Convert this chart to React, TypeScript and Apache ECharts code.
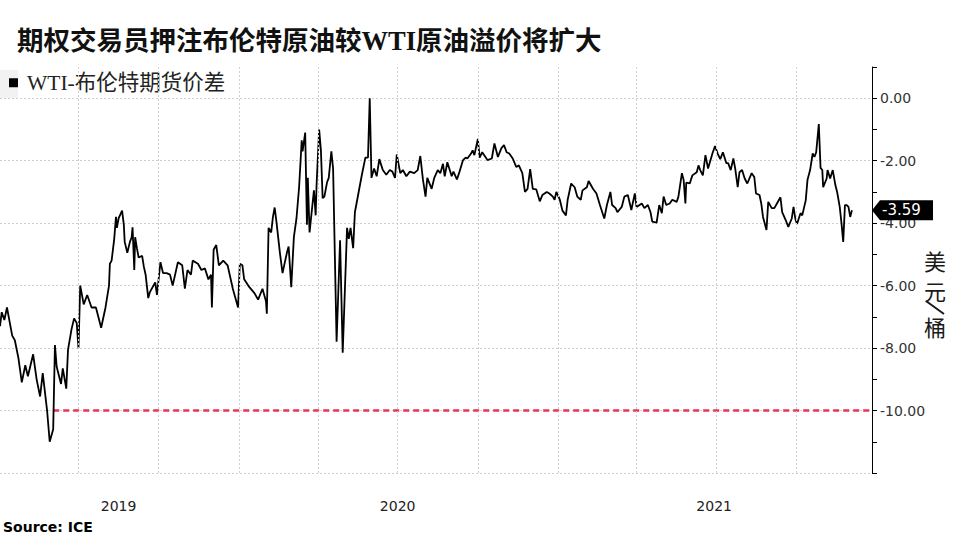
import React, { useEffect, useRef } from 'react';
import * as echarts from 'echarts';

const titleText = '期权交易员押注布伦特原油较WTI原油溢价将扩大';
const seriesName = 'WTI-布伦特期货价差';
const sourceText = 'Source: ICE';
const unitTop = ['美', '元'];
const unitBottom = '桶';

const dates = [
  '2019-04-02','2019-04-04','2019-04-07','2019-04-10','2019-04-16','2019-04-19','2019-04-23','2019-04-27','2019-05-01','2019-05-04',
  '2019-05-10','2019-05-14','2019-05-18','2019-05-21','2019-05-26','2019-05-29','2019-06-02','2019-06-04','2019-06-06','2019-06-11',
  '2019-06-13','2019-06-17','2019-06-19','2019-06-23','2019-06-26','2019-06-29','2019-07-01','2019-07-03','2019-07-07','2019-07-11',
  '2019-07-16','2019-07-21','2019-07-27','2019-08-01','2019-08-05','2019-08-06','2019-08-08','2019-08-11','2019-08-13','2019-08-14',
  '2019-08-16','2019-08-20','2019-08-22','2019-08-23','2019-08-26','2019-08-29','2019-08-31','2019-09-01','2019-09-03','2019-09-04',
  '2019-09-06','2019-09-08','2019-09-12','2019-09-14','2019-09-16','2019-09-19','2019-09-21','2019-09-27','2019-09-29','2019-10-03',
  '2019-10-06','2019-10-10','2019-10-14','2019-10-17','2019-10-23','2019-10-28','2019-10-31','2019-11-03','2019-11-07','2019-11-09',
  '2019-11-15','2019-11-19','2019-11-23','2019-11-27','2019-11-30','2019-12-01','2019-12-03','2019-12-06','2019-12-09','2019-12-14',
  '2019-12-19','2019-12-25','2019-12-31','2020-01-02','2020-01-05','2020-01-07','2020-01-13','2020-01-19','2020-01-23','2020-01-28',
  '2020-02-01','2020-02-02','2020-02-04','2020-02-07','2020-02-09','2020-02-11','2020-02-13','2020-02-17','2020-02-20','2020-02-25',
  '2020-02-27','2020-03-01','2020-03-04','2020-03-07','2020-03-10','2020-03-13','2020-03-14','2020-03-17','2020-03-19','2020-03-20',
  '2020-03-22','2020-03-27','2020-03-29','2020-03-30','2020-04-02','2020-04-04','2020-04-06','2020-04-08','2020-04-11','2020-04-13',
  '2020-04-16','2020-04-18','2020-04-22','2020-04-26','2020-04-29','2020-05-04','2020-05-06','2020-05-08','2020-05-11','2020-05-13',
  '2020-05-17','2020-05-21','2020-05-25','2020-05-28','2020-05-30','2020-06-01','2020-06-04','2020-06-07','2020-06-10','2020-06-14',
  '2020-06-18','2020-06-22','2020-06-25','2020-06-28','2020-06-30','2020-07-04','2020-07-07','2020-07-11','2020-07-15','2020-07-20',
  '2020-07-24','2020-07-27','2020-07-30','2020-08-02','2020-08-04','2020-08-09','2020-08-12','2020-08-16','2020-08-19','2020-08-22',
  '2020-08-24','2020-08-27','2020-09-01','2020-09-03','2020-09-07','2020-09-10','2020-09-14','2020-09-17','2020-09-19','2020-09-23',
  '2020-09-25','2020-09-27','2020-10-01','2020-10-03','2020-10-06','2020-10-12','2020-10-17','2020-10-20','2020-10-24','2020-10-28',
  '2020-10-31','2020-11-03','2020-11-06','2020-11-10','2020-11-14','2020-11-17','2020-11-21','2020-11-24','2020-11-27','2020-11-30',
  '2020-12-03','2020-12-07','2020-12-11','2020-12-14','2020-12-19','2020-12-22','2020-12-26','2020-12-28','2020-12-30','2021-01-03',
  '2021-01-06','2021-01-10','2021-01-12','2021-01-16','2021-01-20','2021-01-23','2021-01-27','2021-01-29','2021-02-03','2021-02-05',
  '2021-02-10','2021-02-14','2021-02-18','2021-02-21','2021-02-23','2021-02-26','2021-03-02','2021-03-04','2021-03-08','2021-03-10',
  '2021-03-15','2021-03-18','2021-03-22','2021-03-26','2021-03-30','2021-04-01','2021-04-07','2021-04-10','2021-04-14','2021-04-17',
  '2021-04-19','2021-04-24','2021-04-27','2021-04-30','2021-05-02','2021-05-05','2021-05-09','2021-05-12','2021-05-17','2021-05-19',
  '2021-05-23','2021-05-25','2021-05-27','2021-05-28','2021-06-01','2021-06-04','2021-06-09','2021-06-11','2021-06-13','2021-06-16',
  '2021-06-19','2021-06-22','2021-06-27','2021-06-30','2021-07-03','2021-07-06','2021-07-09','2021-07-13','2021-07-15','2021-07-18',
  '2021-07-21','2021-07-23','2021-07-26','2021-07-28','2021-07-31','2021-08-03','2021-08-06','2021-08-11','2021-08-14','2021-08-16',
  '2021-08-20','2021-08-22','2021-08-24','2021-08-28','2021-08-30','2021-09-03','2021-09-06','2021-09-09','2021-09-13','2021-09-15',
  '2021-09-19','2021-09-22','2021-09-26','2021-09-28','2021-09-30','2021-10-02','2021-10-06','2021-10-08','2021-10-12','2021-10-14',
  '2021-10-17','2021-10-20','2021-10-22','2021-10-24','2021-10-27','2021-10-29','2021-10-31','2021-11-01','2021-11-05','2021-11-06',
  '2021-11-09','2021-11-12','2021-11-15','2021-11-17','2021-11-20','2021-11-22','2021-11-24','2021-11-26','2021-11-28','2021-11-30',
  '2021-12-02','2021-12-04',
];

const values = [
  -7.3,-6.85,-7.1,-6.7,-7.6,-7.75,-8.3,-9.1,-8.55,-8.9,
  -8.2,-9.0,-9.55,-8.8,-10.0,-11.0,-10.6,-7.9,-8.6,-9.15,
  -8.65,-9.3,-8.05,-7.4,-7.05,-7.2,-8.0,-6.0,-6.6,-6.3,
  -6.7,-6.7,-7.35,-6.7,-6.0,-5.3,-5.2,-4.5,-3.8,-4.15,
  -3.85,-3.6,-4.05,-4.6,-4.95,-4.6,-4.45,-4.13,-5.5,-4.45,
  -4.8,-5.1,-5.05,-5.4,-5.65,-6.4,-6.2,-5.9,-6.3,-5.25,
  -5.6,-5.6,-5.65,-6.0,-5.25,-5.35,-6.1,-5.5,-5.65,-5.2,
  -5.3,-5.5,-5.45,-5.8,-5.65,-6.7,-4.85,-4.7,-5.35,-5.2,
  -5.35,-6.1,-6.7,-5.3,-5.35,-5.8,-6.05,-6.25,-6.45,-6.1,
  -6.5,-6.9,-4.15,-4.3,-3.8,-3.5,-3.95,-4.95,-5.6,-4.95,
  -4.75,-6.05,-4.45,-3.85,-2.85,-1.35,-1.7,-1.1,-4.05,-2.55,
  -4.3,-2.95,-3.75,-2.8,-1.0,-1.65,-3.2,-3.15,-2.7,-2.55,
  -1.7,-2.25,-7.8,-4.55,-8.15,-4.15,-4.5,-4.15,-4.8,-3.65,
  -3.05,-2.45,-1.9,-1.9,0.0,-2.55,-2.25,-2.5,-1.95,-2.3,
  -2.45,-2.3,-2.35,-2.55,-1.8,-2.4,-2.3,-2.5,-2.35,-2.4,
  -2.3,-1.85,-2.6,-3.15,-2.55,-2.9,-2.55,-2.3,-2.4,-2.1,
  -2.5,-2.05,-2.5,-2.35,-2.6,-2.35,-1.98,-1.9,-1.93,-1.78,
  -1.67,-1.82,-1.3,-1.9,-1.73,-1.98,-1.93,-1.45,-1.88,-1.6,
  -1.5,-1.73,-1.77,-1.93,-2.2,-2.15,-2.4,-3.0,-2.9,-2.27,
  -2.9,-2.92,-3.3,-3.1,-3.0,-3.05,-3.15,-3.25,-3.0,-3.25,
  -3.6,-3.75,-3.25,-2.73,-2.85,-3.15,-3.25,-2.95,-2.85,-2.65,
  -2.9,-3.05,-3.42,-3.68,-3.85,-3.42,-3.0,-3.42,-3.52,-3.65,
  -3.48,-3.15,-3.1,-3.58,-3.05,-3.48,-3.37,-3.52,-3.42,-3.65,
  -3.95,-3.98,-3.42,-3.68,-3.15,-3.42,-3.37,-3.25,-3.32,-3.15,
  -2.4,-2.62,-3.37,-2.7,-2.73,-2.47,-2.37,-2.15,-2.3,-2.47,
  -1.82,-2.25,-1.77,-1.53,-1.77,-1.95,-1.73,-2.08,-2.08,-2.3,
  -1.93,-2.23,-2.85,-2.37,-2.3,-2.57,-2.73,-2.4,-2.52,-3.05,
  -3.1,-3.37,-3.8,-4.22,-3.32,-3.52,-3.52,-3.37,-3.17,-3.65,
  -3.9,-4.12,-3.85,-3.48,-3.85,-4.03,-3.68,-3.75,-3.27,-2.62,
  -2.3,-1.77,-1.88,-1.73,-0.83,-2.23,-2.3,-2.85,-2.57,-2.3,
  -2.57,-2.3,-2.78,-3.0,-3.48,-4.0,-4.6,-3.42,-3.42,-3.48,
  -3.8,-3.59,
];

const axisStart = '2019-04-02';
const axisEnd = '2021-12-27';
const quarterLines = ['2019-07-01','2019-10-01','2020-01-01','2020-04-01','2020-07-01','2020-10-01','2021-01-01','2021-04-01','2021-07-01','2021-10-01'];
const yearLabelDates = ['2019-08-16','2020-07-01','2021-06-29'];
const refLevel = -10;
const refStart = '2019-06-02';
const yMin = -12;
const yMax = 1;
const yStep = 1;
const yLabelStep = 2;

const toTs = (s: string) => {
  const [y, m, d] = s.split('-').map(Number);
  return new Date(y, m - 1, d).getTime();
};

const SERIF_CJK = "'Liberation Serif', 'Noto Sans CJK SC', serif";
const SANS = "'DejaVu Sans', sans-serif";
const GRID_COLOR = '#cfcfcf';

export default function App() {
  const ref = useRef<HTMLDivElement>(null);
  useEffect(() => {
    if (!ref.current) return;
    const chart = echarts.init(ref.current, null, { renderer: 'svg' });
    const option: any = {
      animation: false,
      backgroundColor: '#ffffff',
      title: {
        text: titleText,
        left: 12,
        top: 23,
        textStyle: { fontSize: 26.5, fontWeight: 'bold', fontFamily: SERIF_CJK, color: '#111' },
      },
      legend: {
        data: [seriesName],
        left: 4,
        top: 67,
        padding: 5,
        icon: 'rect',
        itemWidth: 9,
        itemHeight: 9,
        selectedMode: false,
        textStyle: { fontSize: 21.5, fontFamily: SERIF_CJK, color: '#222', padding: [0, 0, 0, 4] },
      },
      grid: { left: 0, right: 88, top: 67, bottom: 67, containLabel: false, outerBoundsMode: 'none' },
      xAxis: {
        type: 'value',
        min: toTs(axisStart),
        max: toTs(axisEnd),
        axisLine: { show: false, onZero: false },
        axisTick: { show: false },
        splitLine: { show: false },
        axisLabel: {
          customValues: yearLabelDates.map(toTs),
          formatter: (v: number) => String(new Date(v).getFullYear()),
          margin: 26,
          fontSize: 14,
          fontFamily: SANS,
          color: '#222',
          hideOverlap: false,
        },
      },
      yAxis: {
        type: 'value',
        position: 'right',
        min: yMin,
        max: yMax,
        interval: yStep,
        axisLine: { show: true, onZero: false, lineStyle: { color: '#000', width: 1 } },
        axisTick: { show: true, length: 5, lineStyle: { color: '#000', width: 1 } },
        splitLine: { show: true, lineStyle: { color: [GRID_COLOR, 'transparent'], type: [2, 2], width: 1 } },
        axisLabel: {
          margin: 8,
          fontSize: 14,
          fontFamily: SANS,
          color: '#333',
          formatter: (v: number) =>
            Math.abs(v % yLabelStep) < 1e-9 && v <= 0 && v > yMin ? (v === 0 ? '0.00' : v.toFixed(2)) : '',
        },
      },
      series: [
        {
          name: 'ref',
          type: 'line',
          data: [[toTs(refStart), refLevel], [toTs(axisEnd), refLevel]],
          showSymbol: false,
          symbol: 'none',
          silent: true,
          lineStyle: { color: '#e6335a', width: 2.5, type: [6, 4] },
          z: 2,
          markLine: {
            silent: true,
            symbol: 'none',
            label: { show: false },
            lineStyle: { color: GRID_COLOR, type: [2, 2], width: 1 },
            data: quarterLines.map((d) => ({ xAxis: toTs(d) })),
          },
        },
        {
          name: seriesName,
          type: 'line',
          data: dates.map((d, i) => [toTs(d), values[i]]),
          showSymbol: false,
          symbol: 'none',
          itemStyle: { color: '#000' },
          lineStyle: { color: '#000', width: 1.8 },
          z: 3,
        },
      ],
    };
    chart.setOption(option);

    const last = values[values.length - 1];
    const p = chart.convertToPixel({ xAxisIndex: 0, yAxisIndex: 0 }, [toTs(axisEnd), last]) as number[];
    const px = p[0];
    const py = p[1];
    const unitFont = "22px 'Noto Sans CJK SC'";
    chart.setOption({
      graphic: [
        { type: 'rect', z: 0, shape: { x: 0, y: 70, width: 18, height: 28 }, style: { fill: '#f2f2f2' }, silent: true },
        {
          type: 'polygon',
          z: 10,
          shape: { points: [[px, py], [px + 8, py - 10], [px + 61, py - 10], [px + 61, py + 10], [px + 8, py + 10]] },
          style: { fill: '#000' },
        },
        {
          type: 'text',
          z: 11,
          x: px + 10,
          y: py,
          style: { text: last.toFixed(2), fill: '#fff', font: `15px ${SANS}`, verticalAlign: 'middle', align: 'left' },
        },
        { type: 'text', x: 935, y: 260, style: { text: unitTop[0], fill: '#1a1a1a', font: unitFont, align: 'center', verticalAlign: 'middle' } },
        { type: 'text', x: 935, y: 290, style: { text: unitTop[1], fill: '#1a1a1a', font: unitFont, align: 'center', verticalAlign: 'middle' } },
        { type: 'line', shape: { x1: 926, y1: 301, x2: 944, y2: 314 }, style: { stroke: '#1a1a1a', lineWidth: 2 } },
        { type: 'text', x: 935, y: 326, style: { text: unitBottom, fill: '#1a1a1a', font: unitFont, align: 'center', verticalAlign: 'middle' } },
        { type: 'text', x: 3, y: 527, style: { text: sourceText, fill: '#000', font: `bold 14px ${SANS}`, verticalAlign: 'middle', align: 'left' } },
      ],
    });

    return () => chart.dispose();
  }, []);
  return <div ref={ref} style={{ position: 'fixed', left: 0, top: 0, width: 960, height: 540 }} />;
}
